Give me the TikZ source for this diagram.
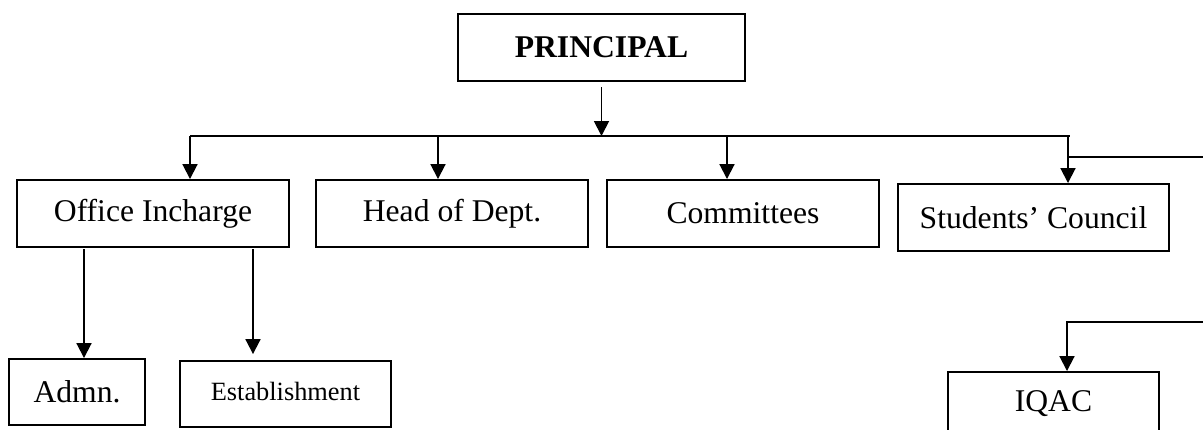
\documentclass[tikz,border=0pt]{standalone}
\usepackage{fontspec}
\setmainfont{Liberation Serif}
\usepackage{tikz}
\usetikzlibrary{arrows.meta}

\begin{document}
\begin{tikzpicture}[line width=1.1pt,
    box/.style={draw,inner sep=2pt,minimum height=1.34cm,font=\fontsize{18}{22}\selectfont},
    arr/.style={-{Triangle[length=8.5pt,width=8.5pt]}}]
      \useasboundingbox (0,0) rectangle (24.06,-8.60);
      \clip (0,0) rectangle (24.06,-8.60);
      \node[box,minimum width=5.74cm,font=\fontsize{18}{22}\selectfont\bfseries](principal) at (12.03,-0.95){PRINCIPAL};
      \node[box,minimum width=5.44cm](office) at (3.06,-4.27){Office Incharge};
      \node[box,minimum width=5.44cm](head) at (9.04,-4.27){Head of Dept.};
      \node[box,minimum width=5.44cm](committees) at (14.86,-4.27){Committees};
      \node[box,minimum width=5.42cm](students) at (20.67,-4.35){Students’ Council};
      \node[box,minimum width=2.72cm,minimum height=1.32cm](admn) at (1.54,-7.84){Admn.};
      \node[box,minimum width=4.22cm,minimum height=1.32cm,font=\fontsize{15}{18}\selectfont](establishment) at (5.71,-7.88){Establishment\strut};
      \node[box,minimum width=4.22cm,minimum height=1.28cm](iqac) at (21.07,-8.08){IQAC};
      \coordinate (barL) at (3.80,-2.72);
      \coordinate (barR) at (21.40,-2.72);
      \coordinate (toHead) at (8.76,-2.72);
      \coordinate (toCommittees) at (14.54,-2.72);
      \coordinate (toStudents) at (21.36,-2.72);
      \coordinate (sideA) at (24.06,-3.14);
      \coordinate (sideB) at (24.06,-6.44);
      \coordinate (toIqac) at (21.34,-6.44);
      \coordinate (toAdmn) at (1.68,-4.98);
      \coordinate (toEst) at (5.06,-4.98);
      \draw[arr] ([yshift=-3pt]principal.south) -- (principal.south |- barL);
      \draw (barL) -- (barR);
      \draw[arr] (barL) -- (barL |- office.north);
      \draw[arr] (toHead) -- (toHead |- head.north);
      \draw[arr] (toCommittees) -- (toCommittees |- committees.north);
      \draw[arr] (toStudents) -- (toStudents |- students.north);
      \draw (toStudents |- sideA) -- (sideA);
      \draw[arr] (sideB) -- (toIqac) -- (toIqac |- iqac.north);
      \draw[arr] (toAdmn) -- (toAdmn |- admn.north);
      \draw[arr] (toEst) -- ([yshift=3.4pt]toEst |- establishment.north);
    \end{tikzpicture}
\end{document}
